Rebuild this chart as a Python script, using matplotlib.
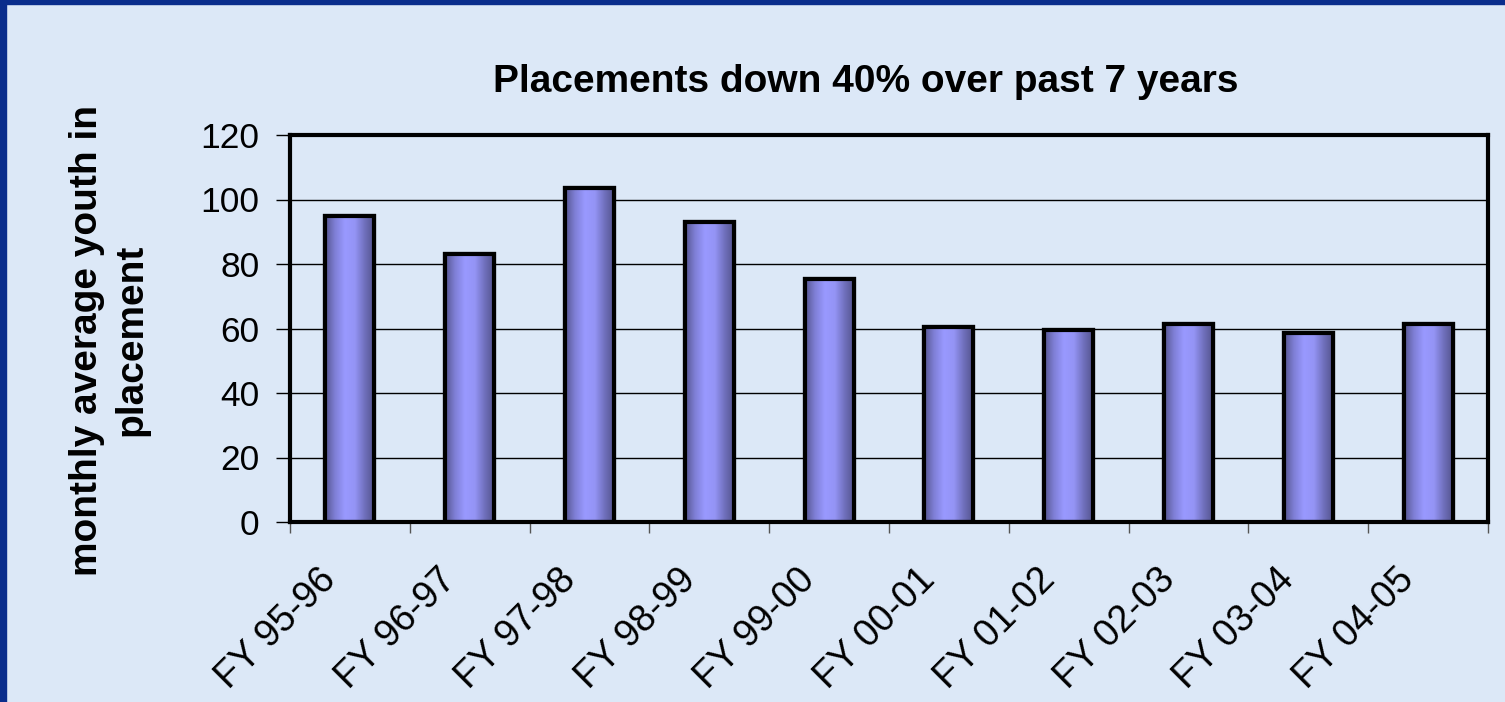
import numpy as np
import matplotlib
matplotlib.use("Agg")
import matplotlib.pyplot as plt
import matplotlib.transforms as mtransforms
from matplotlib.colors import LinearSegmentedColormap
from matplotlib.patches import Rectangle

# data
years = ["FY 95-96", "FY 96-97", "FY 97-98", "FY 98-99", "FY 99-00",
         "FY 00-01", "FY 01-02", "FY 02-03", "FY 03-04", "FY 04-05"]
placements = [95, 83, 103.5, 93, 75.5, 60.5, 59.5, 61.5, 58.5, 61.5]
yticks = [0, 20, 40, 60, 80, 100, 120]

plt.rcParams["font.family"] = ["Liberation Sans", "DejaVu Sans"]

fig = plt.figure(figsize=(15.05, 7.02), dpi=100)
fig.patch.set_facecolor("#dce8f7")

# navy frame on the slide (left and top edges)
fig.add_artist(Rectangle((0, 0), 6 / 1505, 1, transform=fig.transFigure,
                         color="#0a2d8c", zorder=0))
fig.add_artist(Rectangle((0, 1 - 4 / 702), 1, 4 / 702, transform=fig.transFigure,
                         color="#0a2d8c", zorder=0))

ax = fig.add_axes([290 / 1505, 180 / 702, 1198 / 1505, 387 / 702])
ax.set_facecolor("none")

x = np.arange(len(years))
bars = ax.bar(x, placements, width=0.41, color="#9999ff", edgecolor="black",
              linewidth=3, zorder=3)

# shaded cylinder-like fill for every bar
shade = LinearSegmentedColormap.from_list(
    "shade", ["#55558f", "#7f7fd6", "#9999ff", "#9494f5", "#6f6fbb", "#52528a"])
grad = np.linspace(0, 1, 256).reshape(1, -1)
for b in bars:
    im = ax.imshow(grad, cmap=shade, aspect="auto", zorder=3.5,
                   extent=(b.get_x(), b.get_x() + b.get_width(), 0, b.get_height()))
    im.set_clip_path(b)
    edge = Rectangle((b.get_x(), 0), b.get_width(), b.get_height(), fill=False,
                     edgecolor="black", linewidth=3, zorder=4)
    ax.add_patch(edge)

ax.set_xlim(-0.5, len(years) - 0.5)
ax.set_ylim(0, 120)
ax.set_yticks(yticks)
ax.set_yticklabels([str(v) for v in yticks], fontsize=25.5)
ax.grid(axis="y", color="black", linewidth=1, zorder=1)
ax.tick_params(axis="y", length=10, width=1, pad=12)

ax.set_xticks(x)
ax.set_xticklabels(years, rotation=45, ha="right", va="top",
                   rotation_mode="anchor", fontsize=27)
ax.set_xticks(np.arange(len(years) + 1) - 0.5, minor=True)
ax.tick_params(axis="x", which="major", length=0, pad=0)
ax.tick_params(axis="x", which="minor", length=8, width=1, color="#555555")
shift = mtransforms.ScaledTranslation(-32 / 100, -40 / 100, fig.dpi_scale_trans)
for lab in ax.get_xticklabels():
    lab.set_transform(lab.get_transform() + shift)

for s in ax.spines.values():
    s.set_linewidth(3)
    s.set_color("black")
    s.set_zorder(5)

ax.set_ylabel("monthly average youth in\nplacement", fontsize=28,
              fontweight="bold", linespacing=1.3)
ax.yaxis.set_label_coords(-0.117, 0.47)

fig.text(866 / 1505, 1 - 82 / 702, "Placements down 40% over past 7 years",
         fontsize=28, fontweight="bold", ha="center", va="center")

fig.savefig("out.png", dpi=100, facecolor=fig.get_facecolor())
